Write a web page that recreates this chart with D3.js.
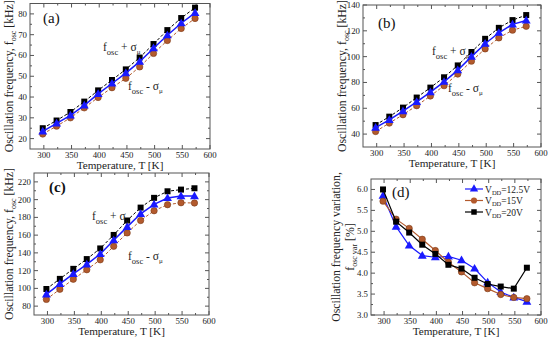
<!DOCTYPE html>
<html><head><meta charset="utf-8">
<script src="https://cdn.jsdelivr.net/npm/d3@7/dist/d3.min.js"></script>
<style>body{margin:0;background:#fff}svg{display:block}text{font-family:"Liberation Serif","Times New Roman",serif}</style>
</head><body><svg id="c" width="550" height="337"></svg>
<script>
const temps = [298,323,348,373,398,423,448,473,498,523,548,573];
const xTicks = [300,350,400,450,500,550,600];

const aUpper = [25,28.7,32.8,37.8,43.2,48.2,53.3,59,65.5,72.2,78,83];
const aMean  = [23.5,27.3,31.2,36,41.5,46.5,51.5,57,63.5,69.7,75.5,80.5];
const aLower = [22.2,26,30,34.8,39.8,44.5,49,54.5,61,67.2,73,77.8];
const aTicks = [20,30,40,50,60,70,80];

const bUpper = [47,53.5,60.5,68.3,76,84,93.2,103.6,113.8,122.3,128.3,132.2];
const bMean  = [45,51,57.8,65,72.5,80.5,89.5,100,110,118.5,125,128];
const bLower = [42,48.5,55,62,69.5,77.5,86.5,96.5,106,114.5,120.5,123.5];
const bTicks = [40,60,80,100,120,140];

const cUpper = [99.3,110.7,122,133,145,160.2,176.5,191,202,209.4,211.3,212.8];
const cMean  = [93.3,105,116.3,127,138.7,154.2,169.3,184,194.7,201.8,204,204];
const cLower = [87.6,99,110.3,121,132.2,147.4,162.5,176.5,187.5,194.3,196.5,196.2];
const cTicks = [80,100,120,140,160,180,200,220];

const d125 = [5.85,5.11,4.66,4.42,4.38,4.40,4.31,4.11,3.78,3.55,3.42,3.32];
const d15  = [5.72,5.29,5.07,4.81,4.54,4.26,4.03,3.77,3.63,3.49,3.42,3.39];
const d20  = [6.0,5.23,4.97,4.68,4.46,4.2,4.11,3.89,3.74,3.68,3.63,4.13];
const dTicks = [3.0,3.5,4.0,4.5,5.0,5.5,6.0];
const dLegend = ["12.5V","15V","20V"];

const BLUE="#1a1aff", BROWN="#b35a2d", BLACK="#000";
const svg = d3.select("#c");

function panel(o){
  const g = svg.append("g");
  const x = d3.scaleLinear().domain([275,600]).range([o.l,o.r]);
  const y = d3.scaleLinear().domain(o.yd).range([o.b,o.t]);
  g.append("rect").attr("x",o.l).attr("y",o.t).attr("width",o.r-o.l).attr("height",o.b-o.t)
    .attr("fill","none").attr("stroke","#555").attr("stroke-width",1);
  const xMinor = d3.range(325,600,50);
  xTicks.concat(xMinor).forEach(v=>{
    const len = xTicks.includes(v)?4:2;
    g.append("line").attr("x1",x(v)).attr("x2",x(v)).attr("y1",o.b).attr("y2",o.b-len).attr("stroke","#555");
    g.append("line").attr("x1",x(v)).attr("x2",x(v)).attr("y1",o.t).attr("y2",o.t+len).attr("stroke","#555");
  });
  o.ticks.concat(o.minor).forEach(v=>{
    const len = o.ticks.includes(v)?4:2;
    g.append("line").attr("y1",y(v)).attr("y2",y(v)).attr("x1",o.l).attr("x2",o.l+len).attr("stroke","#555");
    g.append("line").attr("y1",y(v)).attr("y2",y(v)).attr("x1",o.r).attr("x2",o.r-len).attr("stroke","#555");
  });
  xTicks.forEach(v=>g.append("text").attr("x",x(v)).attr("y",o.b+9).attr("text-anchor","middle")
    .attr("font-size",8.8).attr("fill","#222").text(v));
  o.ticks.forEach(v=>g.append("text").attr("x",o.l-3).attr("y",y(v)+3).attr("text-anchor","end")
    .attr("font-size",8.8).attr("fill","#222").text(o.fmt?o.fmt(v):v));
  g.append("text").attr("x",(o.l+o.r)/2).attr("y",o.b+20).attr("text-anchor","middle")
    .attr("font-size",11.2).attr("fill","#222").text("Temperature, T [K]");
  return {g,x,y};
}

function addY1(cx,cy){
  const t = svg.append("text").attr("transform",`translate(${cx},${cy}) rotate(-90)`).attr("text-anchor","middle")
    .attr("font-size",11.8).attr("fill","#222");
  t.append("tspan").text("Oscillation frequency, f");
  t.append("tspan").attr("font-size",8).attr("dy",3).text("osc");
  t.append("tspan").attr("dy",-3).text(" [kHz]");
}

function series(P, vals, color, shape, dashed, lw){
  const line = d3.line().x((d,i)=>P.x(temps[i])).y(d=>P.y(d));
  P.g.append("path").attr("d",line(vals)).attr("fill","none").attr("stroke",color)
    .attr("stroke-width",lw||1).attr("stroke-dasharray",dashed?"3,2":null);
  const sym = d3.symbol().type(shape==="sq"?d3.symbolSquare:shape==="tri"?d3.symbolTriangle:d3.symbolCircle)
    .size(shape==="sq"?36:shape==="tri"?34:32);
  P.g.selectAll(null).data(vals).join("path")
    .attr("transform",(d,i)=>`translate(${P.x(temps[i])},${P.y(d)+(shape==="tri"?0.5:0)})`)
    .attr("d",sym).attr("fill",color).attr("stroke",shape==="circ"?"#7a3a18":"none").attr("stroke-width",0.6);
}

function annot(g,x,y,sign){
  const t = g.append("text").attr("x",x).attr("y",y).attr("font-size",11.5).attr("fill","#222");
  t.append("tspan").text("f");
  t.append("tspan").attr("font-size",8.5).attr("dy",4).text("osc");
  t.append("tspan").attr("dy",-4).text(sign==="+"?" + σ":" - σ");
  t.append("tspan").attr("font-size",7).attr("dy",3).text("μ");
}

function freqPanel(o, up, mean, lo, label, ann){
  const P = panel(o);
  series(P, up, BLACK, "sq", true, 1);
  series(P, lo, BROWN, "circ", true, 1);
  series(P, mean, BLUE, "tri", false, 1.5);
  P.g.append("text").attr("x",o.labx).attr("y",o.laby).attr("font-size",15).attr("fill","#111")
    .attr("font-weight",o.bold?"bold":null).text(label);
  annot(P.g, ann[0], ann[1], "+");
  annot(P.g, ann[2], ann[3], "-");
  addY1(o.ylx, (o.t+o.b)/2);
}

freqPanel({l:30,r:210,t:3.5,b:149,yd:[15,85],ticks:aTicks,minor:d3.range(25,85,10),labx:43,laby:23,ylx:13},
  aUpper,aMean,aLower,"(a)",[103,51,128,90]);
freqPanel({l:363,r:541,t:5,b:147,yd:[30,140],ticks:bTicks,minor:d3.range(50,140,20),labx:378,laby:28,ylx:346},
  bUpper,bMean,bLower,"(b)",[432,55,448,92]);
freqPanel({l:34,r:209,t:173,b:315,yd:[70,230],ticks:cTicks,minor:d3.range(90,230,20),labx:49,laby:192,ylx:13,bold:true},
  cUpper,cMean,cLower,"(c)",[92,220,128,260]);

const od = {l:371,r:541,t:179,b:315,yd:[3.0,6.25],ticks:dTicks,minor:d3.range(3.25,6.25,0.5),fmt:d3.format(".1f")};
const PD = panel(od);
series(PD, d125, BLUE, "tri", false, 1.2);
series(PD, d15, BROWN, "circ", false, 1.2);
series(PD, d20, BLACK, "sq", false, 1.2);
PD.g.append("text").attr("x",392).attr("y",197).attr("font-size",15).attr("fill","#111").text("(d)");
[[BLUE,"tri"],[BROWN,"circ"],[BLACK,"sq"]].forEach((c,i)=>{
  const yy = 189 + i*11.5;
  PD.g.append("line").attr("x1",465).attr("x2",483).attr("y1",yy).attr("y2",yy).attr("stroke",c[0]).attr("stroke-width",1.2);
  const sym = d3.symbol().type(c[1]==="sq"?d3.symbolSquare:c[1]==="tri"?d3.symbolTriangle:d3.symbolCircle).size(30);
  PD.g.append("path").attr("transform",`translate(474,${yy})`).attr("d",sym).attr("fill",c[0]);
  const t = PD.g.append("text").attr("x",485).attr("y",yy+3.5).attr("font-size",9.5).attr("fill","#222");
  t.append("tspan").text("V");
  t.append("tspan").attr("font-size",6.5).attr("dy",2).text("DD");
  t.append("tspan").attr("dy",-2).text("="+dLegend[i]);
});
{
  const cy = (od.t+od.b)/2;
  svg.append("text").attr("transform",`translate(340,${cy}) rotate(-90)`).attr("text-anchor","middle")
    .attr("font-size",11.8).attr("fill","#222").text("Oscillation frequency variation,");
  const t = svg.append("text").attr("transform",`translate(354,${cy}) rotate(-90)`).attr("text-anchor","middle")
    .attr("font-size",11.8).attr("fill","#222");
  t.append("tspan").text("f");
  t.append("tspan").attr("font-size",8).attr("dy",3).text("osc var");
  t.append("tspan").attr("dy",-3).text(" [%]");
}
</script></body></html>
